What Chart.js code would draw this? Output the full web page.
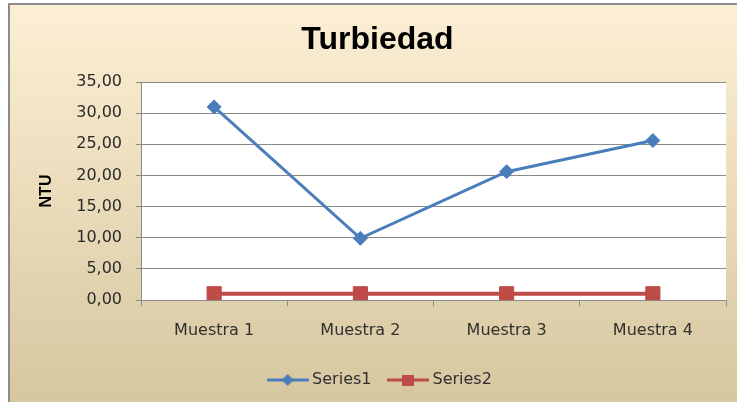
<!DOCTYPE html>
<html>
<head>
<meta charset="utf-8">
<script src="https://cdn.jsdelivr.net/npm/chart.js@4"></script>
<style>
  html, body { margin: 0; padding: 0; background: #fff; }
  #wrap { width: 737px; height: 402px; }
</style>
</head>
<body>
<div id="wrap"><canvas id="turbiedadChart" width="737" height="402"></canvas></div>
<script>
// Datos
const categorias = ['Muestra 1', 'Muestra 2', 'Muestra 3', 'Muestra 4'];
const series1 = [31.0, 9.9, 20.6, 25.6];
const series2 = [1.0, 1.0, 1.0, 1.0];
const nombresSeries = ['Series1', 'Series2'];
const titulo = 'Turbiedad';
const tituloEjeY = 'NTU';
const ejeYMin = 0;
const ejeYMax = 35;
const ejeYPaso = 5;

const azul = '#4a7ebb';
const rojo = '#be4b48';
const gris = '#8a8a8a';

// Iconos de la leyenda: línea con marcador en el medio
function iconoLeyenda(color, forma) {
    const c = document.createElement('canvas');
    c.width = 42;
    c.height = 14;
    const ctx = c.getContext('2d');
    ctx.strokeStyle = color;
    ctx.lineWidth = 3;
    ctx.beginPath();
    ctx.moveTo(0, 7);
    ctx.lineTo(42, 7);
    ctx.stroke();
    ctx.fillStyle = color;
    if (forma === 'rombo') {
        ctx.beginPath();
        ctx.moveTo(21, 1);
        ctx.lineTo(27, 7);
        ctx.lineTo(21, 13);
        ctx.lineTo(15, 7);
        ctx.closePath();
        ctx.fill();
    } else {
        ctx.fillRect(15, 2, 12, 11);
    }
    return c;
}
const iconos = [iconoLeyenda(azul, 'rombo'), iconoLeyenda(rojo, 'cuadro')];

// Fondo degradado con marco y área de trazado blanca
const fondoPlugin = {
    id: 'fondo',
    afterLayout(chart) {
        // el gráfico original está recortado a la derecha: título y leyenda quedan algo desplazados
        chart.legend.left += 14;
        chart.legend.right += 14;
        chart.titleBlock.left += 10;
        chart.titleBlock.right += 10;
    },
    beforeDraw(chart) {
        const ctx = chart.ctx;
        const w = chart.width, h = chart.height;
        ctx.save();
        ctx.fillStyle = '#ffffff';
        ctx.fillRect(0, 0, w, h);
        const grad = ctx.createLinearGradient(0, 4, 0, h);
        grad.addColorStop(0, '#fdefd4');
        grad.addColorStop(1, '#d6c7a0');
        ctx.fillStyle = grad;
        ctx.fillRect(9, 4, w - 9, h - 4);
        ctx.fillStyle = '#8c8c8c';
        ctx.fillRect(8, 3, 2, h - 3);
        ctx.fillRect(8, 3, w - 8, 2);
        const a = chart.chartArea;
        ctx.fillStyle = '#ffffff';
        ctx.fillRect(a.left, a.top, a.right - a.left, a.bottom - a.top);
        ctx.restore();
    }
};

new Chart(document.getElementById('turbiedadChart'), {
    type: 'line',
    data: {
        labels: categorias,
        datasets: [
            {
                label: nombresSeries[0],
                data: series1,
                borderColor: azul,
                backgroundColor: azul,
                borderWidth: 3,
                pointStyle: 'rectRot',
                pointRadius: 7,
                pointBorderWidth: 1,
                tension: 0
            },
            {
                label: nombresSeries[1],
                data: series2,
                borderColor: rojo,
                backgroundColor: rojo,
                borderWidth: 4,
                pointStyle: 'rect',
                pointRadius: 10,
                pointBorderWidth: 1,
                tension: 0
            }
        ]
    },
    options: {
        responsive: false,
        animation: false,
        layout: { padding: { left: 9, right: 11, top: 0, bottom: 4 } },
        plugins: {
            title: {
                display: true,
                text: titulo,
                color: '#000',
                font: { family: 'Liberation Sans', size: 32, weight: 'bold' },
                padding: { top: 21, bottom: 22.6 }
            },
            legend: {
                position: 'bottom',
                labels: {
                    usePointStyle: true,
                    pointStyleWidth: 33,
                    padding: 20,
                    color: '#303030',
                    font: { family: 'DejaVu Sans', size: 16 },
                    generateLabels(chart) {
                        const items = Chart.defaults.plugins.legend.labels.generateLabels(chart);
                        items.forEach((it, i) => { it.pointStyle = iconos[i]; });
                        return items;
                    }
                }
            },
            tooltip: { enabled: false }
        },
        scales: {
            x: {
                offset: true,
                grid: { display: true, drawOnChartArea: false, drawTicks: true, tickLength: 6, offset: true, color: gris },
                border: { display: true, color: gris },
                ticks: { color: '#303030', padding: 15, font: { family: 'DejaVu Sans', size: 16 } },
                afterFit(s) { s.height = 52; }
            },
            y: {
                min: ejeYMin,
                max: ejeYMax,
                grid: { color: gris, tickLength: 5 },
                border: { display: true, color: gris },
                ticks: {
                    stepSize: ejeYPaso,
                    color: '#2a2a2a',
                    padding: 14,
                    font: { family: 'DejaVu Sans', size: 16 },
                    callback: v => v.toFixed(2).replace('.', ',')
                },
                title: {
                    display: true,
                    text: tituloEjeY,
                    color: '#000',
                    font: { family: 'Liberation Sans', size: 16, weight: 'bold' },
                    padding: { top: 28, bottom: 0 }
                },
                afterFit(s) { s.width = 132; }
            }
        }
    },
    plugins: [fondoPlugin]
});
</script>
</body>
</html>
